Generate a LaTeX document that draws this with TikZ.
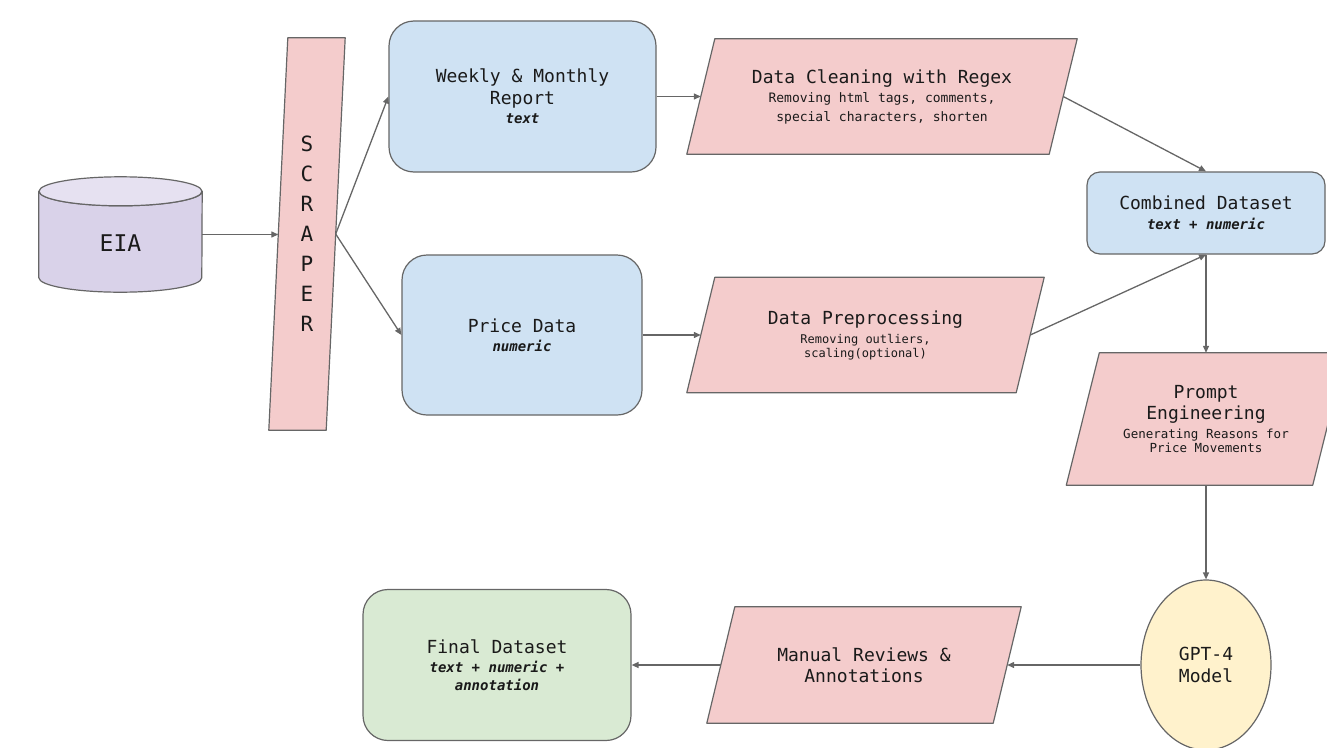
\documentclass[tikz,border=0pt]{standalone}
\usepackage{fontspec}
\setmainfont{DejaVu Sans Mono}
\usetikzlibrary{arrows.meta,shapes.geometric}
\definecolor{cblue}{HTML}{CFE2F3}
\definecolor{cpink}{HTML}{F4CCCC}
\definecolor{cgreen}{HTML}{D9EAD3}
\definecolor{cyellow}{HTML}{FFF2CC}
\definecolor{clav}{HTML}{D9D2E9}
\definecolor{clavtop}{HTML}{E6E1F1}
\definecolor{scol}{HTML}{666666}
\definecolor{acol}{HTML}{666666}
\definecolor{tcol}{HTML}{1A1A1A}
\pgfdeclarelayer{bg}
\pgfsetlayers{bg,main}
\newcommand\fbi[1]{\textbf{\textit{#1}}}
\newcommand\fsz[2]{\fontsize{#1}{#2}\selectfont}
\begin{document}
\begin{tikzpicture}[x=1pt,y=1pt,
  txt/.style={align=center, inner sep=0pt, text=tcol},
  rbox/.style={txt, draw=scol, line width=1.2pt},
  pshape/.style={fill=cpink, draw=scol, line width=1.2pt, line join=round},
  arr/.style={draw=acol, line width=1.3pt, -{Triangle[length=7pt,width=6pt]}}]
\useasboundingbox (0,0) rectangle (1327,-747);
\clip (0,0) rectangle (1327,-747);
% shape holders and boxes
\node[txt, minimum width=163pt, minimum height=115pt] (eia) at (120.5,-234.5) {};
\node[txt, font=\fsz{23}{26}] (eiatext) at (120.5,-243) {EIA};
\node[txt, minimum width=57pt, minimum height=392pt, font=\fsz{21}{30}] (sc) at (307,-234) {S\\C\\R\\A\\P\\E\\R};
\node[rbox, fill=cblue, rounded corners=25pt, minimum width=267pt, minimum height=151pt, font=\fsz{18}{22}] (weekly) at (522.5,-96.5)
  {Weekly \& Monthly\\Report\\[-3pt]{\fsz{14}{22}\fbi{text}}};
\node[rbox, fill=cblue, rounded corners=25pt, minimum width=240pt, minimum height=160pt, font=\fsz{18}{22}] (price) at (522,-335)
  {Price Data\\[-3pt]{\fsz{14}{22}\fbi{numeric}}};
\node[txt, minimum width=390pt, minimum height=115pt, font=\fsz{18}{19}] (clean) at (882,-96.5)
  {Data Cleaning with Regex\\{\fsz{13}{19}Removing html tags, comments,}\\{\fsz{13}{19}special characters, shorten}};
\node[txt, minimum width=357pt, minimum height=115pt, font=\fsz{18}{19}] (prep) at (865.5,-335)
  {Data Preprocessing\\{\fsz{12}{14}Removing outliers,}\\[-5pt]{\fsz{12}{14}scaling(optional)}};
\node[rbox, fill=cblue, rounded corners=13pt, minimum width=238pt, minimum height=82pt, font=\fsz{18}{20}] (comb) at (1206,-213)
  {Combined Dataset\\{\fsz{14}{20}\fbi{text + numeric}}};
\node[txt, minimum width=279pt, minimum height=132pt, font=\fsz{18}{21}] (prompt) at (1206,-419)
  {Prompt\\Engineering\\[-2pt]{\fsz{12.5}{14}Generating Reasons for}\\[-7pt]{\fsz{12.5}{14}Price Movements}};
\node[rbox, ellipse, fill=cyellow, minimum width=130pt, minimum height=170pt, font=\fsz{18}{22}] (gpt) at (1206,-665)
  {GPT-4\\Model};
\node[txt, minimum width=314pt, minimum height=116pt, font=\fsz{18}{21}] (manual) at (864,-665)
  {Manual Reviews \&\\Annotations};
\node[rbox, fill=cgreen, rounded corners=25pt, minimum width=268pt, minimum height=151pt, font=\fsz{18}{19}] (final) at (497,-665)
  {Final Dataset\\{\fsz{14}{18}\fbi{text + numeric +}}\\[-1pt]{\fsz{14}{18}\fbi{annotation}}};
% background shapes
\begin{pgfonlayer}{bg}
\begin{scope}
\clip (0,0) rectangle (1327,-747);
% cylinder
\draw[fill=clav, draw=scol, line width=1.2pt, line join=round]
  ([yshift=-14.5pt]eia.north west) -- ([yshift=14.5pt]eia.south west)
  arc[start angle=180, end angle=360, x radius=81.5pt, y radius=14.5pt]
  -- ([yshift=-14.5pt]eia.north east)
  arc[start angle=0, end angle=-180, x radius=81.5pt, y radius=14.5pt] -- cycle;
\draw[fill=clavtop, draw=scol, line width=1.2pt] ([yshift=-14.5pt]eia.north) ellipse [x radius=81.5pt, y radius=14.5pt];
% scraper
\draw[pshape] ([xshift=9.5pt]sc.north west) -- ([xshift=9.5pt]sc.north east)
  -- ([xshift=-9.5pt]sc.south east) -- ([xshift=-9.5pt]sc.south west) -- cycle;
% parallelograms
\draw[pshape] ([xshift=28pt]clean.north west) -- (clean.north east) -- ([xshift=-28pt]clean.south east) -- (clean.south west) -- cycle;
\draw[pshape] ([xshift=28pt]prep.north west) -- (prep.north east) -- ([xshift=-28pt]prep.south east) -- (prep.south west) -- cycle;
\draw[pshape] ([xshift=33pt]prompt.north west) -- (prompt.north east) -- ([xshift=-33pt]prompt.south east) -- (prompt.south west) -- cycle;
\draw[pshape] ([xshift=28pt]manual.north west) -- (manual.north east) -- ([xshift=-28pt]manual.south east) -- (manual.south west) -- cycle;
\end{scope}
\end{pgfonlayer}
% connectors
\draw[arr] (eia.east) -- (sc.west |- eia.east);
\draw[arr] (sc.east) -- (weekly.west);
\draw[arr] (sc.east) -- (price.west);
\draw[arr] (weekly.east) -- ([xshift=14pt]clean.west);
\draw[arr] (price.east) -- ([xshift=14pt]prep.west);
\draw[arr] ([xshift=-14pt]clean.east) -- (comb.north);
\draw[arr] ([xshift=-14pt]prep.east) -- (comb.south);
\draw[arr] (comb.south) -- (prompt.north);
\draw[arr] (prompt.south) -- (gpt.north);
\draw[arr] (gpt.west) -- ([xshift=-14pt]manual.east);
\draw[arr] ([xshift=14pt]manual.west) -- (final.east);
\end{tikzpicture}
\end{document}
